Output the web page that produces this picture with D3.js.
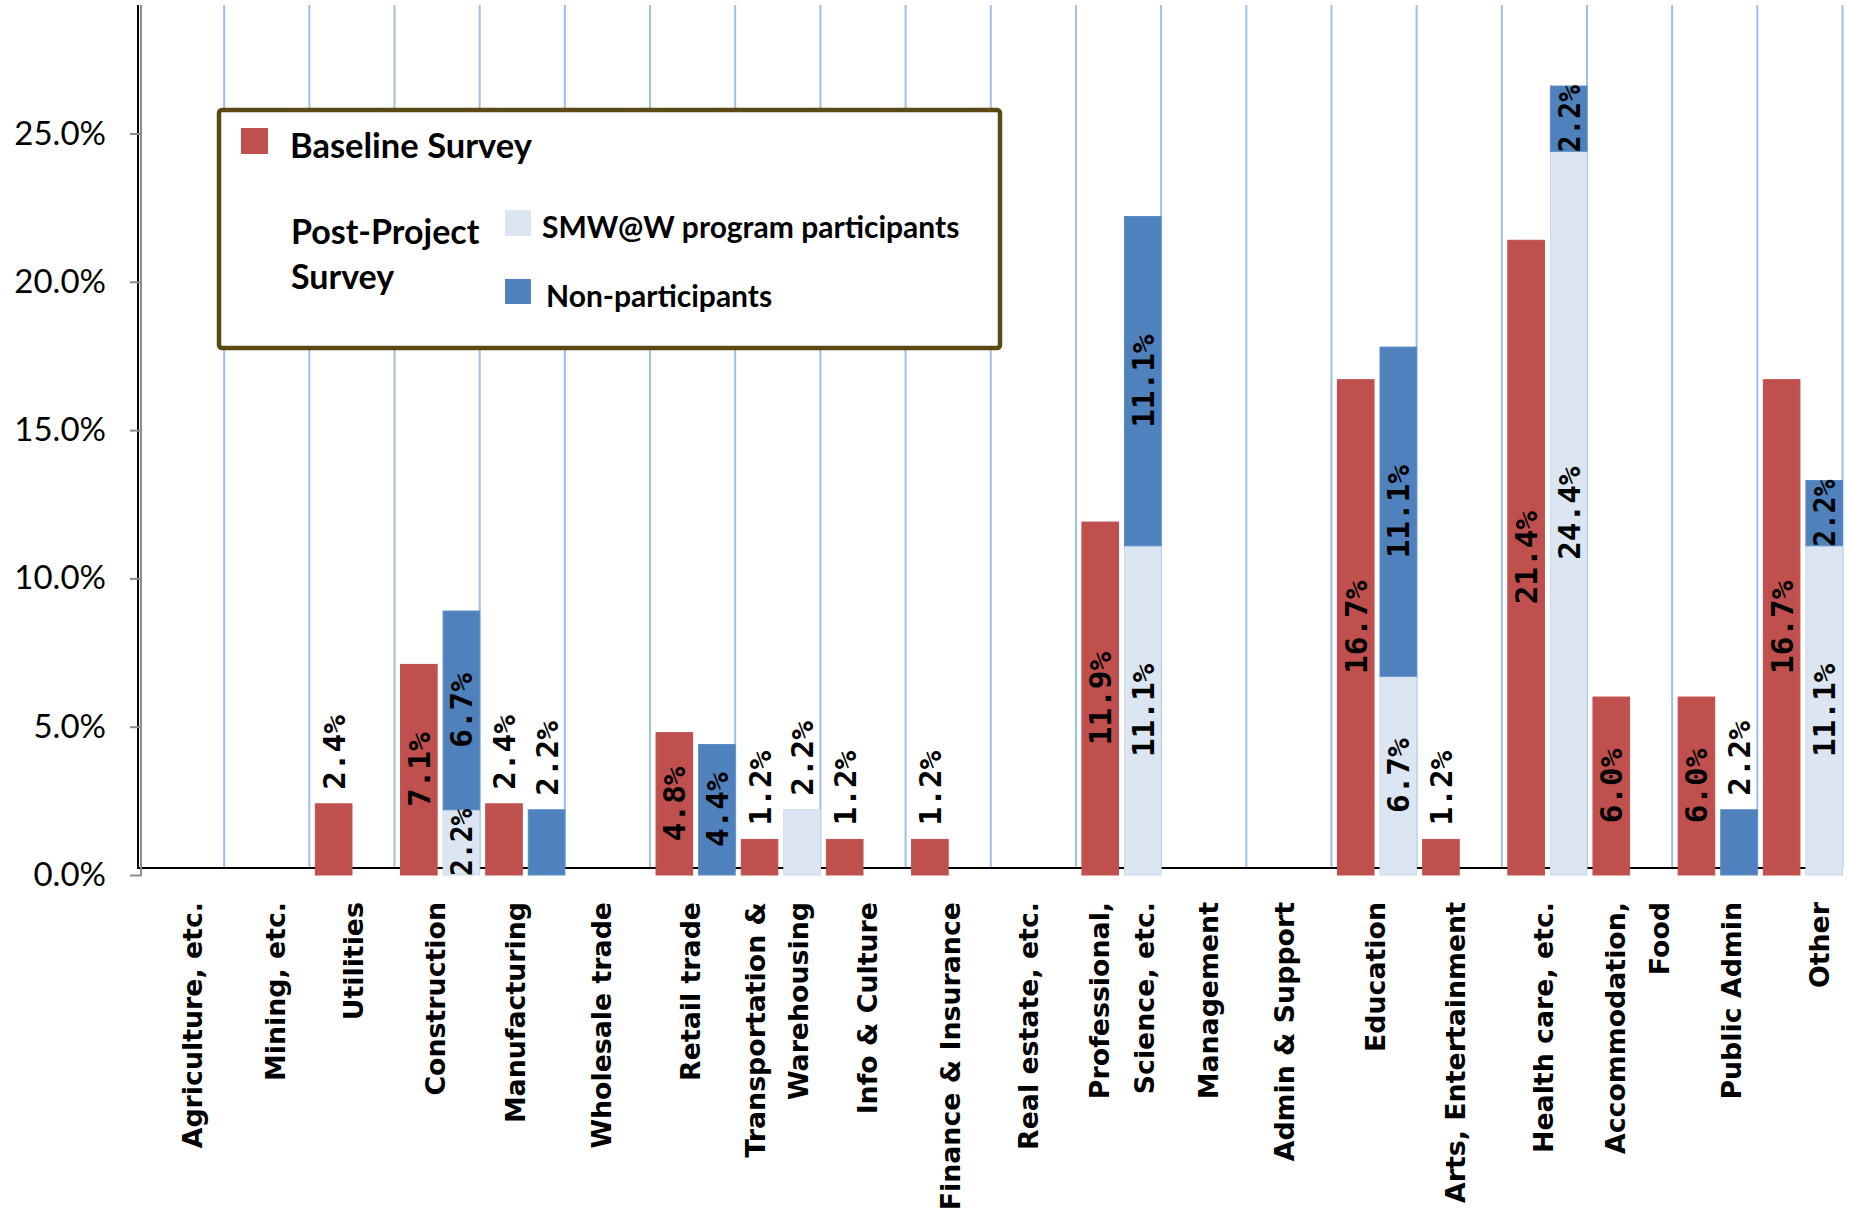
<!DOCTYPE html>
<html>
<head>
<meta charset="utf-8">
<script src="https://cdn.jsdelivr.net/npm/d3@7"></script>
<style>
  html, body { margin: 0; padding: 0; background: #fff; }
  svg { display: block; }
</style>
</head>
<body>
<svg id="chart" width="1849" height="1215"></svg>
<script>
// Industry categories ("\n" marks a manual line break in the axis label)
const categories = [
  "Agriculture, etc.", "Mining, etc.", "Utilities", "Construction", "Manufacturing",
  "Wholesale trade", "Retail trade", "Transportation &\nWarehousing", "Info & Culture",
  "Finance & Insurance", "Real estate, etc.", "Professional,\nScience, etc.", "Management",
  "Admin & Support", "Education", "Arts, Entertainment", "Health care, etc.",
  "Accommodation,\nFood", "Public Admin", "Other"
];

// Share of respondents (%) per industry; null = no respondents
const baseline = [null, null, 2.4, 7.1, 2.4, null, 4.8, 1.2, 1.2, 1.2, null, 11.9, null, null, 16.7, 1.2, 21.4, 6.0, 6.0, 16.7];
const participants = [null, null, null, 2.2, null, null, null, 2.2, null, null, null, 11.1, null, null, 6.7, null, 24.4, null, null, 11.1];
const nonParticipants = [null, null, null, 6.7, 2.2, null, 4.4, null, null, null, null, 11.1, null, null, 11.1, null, 2.2, null, 2.2, 2.2];

const yTicks = [0, 5, 10, 15, 20, 25];

const seriesNames = {
  baseline: "Baseline Survey",
  post: "Post-Project\nSurvey",
  participants: "SMW@W program participants",
  nonParticipants: "Non-participants"
};

const colors = {
  baseline: "#C0504D",
  participants: "#DCE6F2",
  nonParticipants: "#4F81BD",
  grid: "#9DBEEA",
  legendBorder: "#5B4913"
};

const svg = d3.select("#chart");
svg.append("rect").attr("width", 1849).attr("height", 1215).attr("fill", "#fff");

const plotTop = 5, frameY = 868, axisX = 141, frameX = 138;

const x = d3.scaleBand().domain(d3.range(categories.length)).range([139, 1842.5]).padding(0);
const inner = d3.scaleBand().domain(["base", "post"]).range([6, x.bandwidth()]).paddingInner(0.14);
const y = d3.scaleLinear().domain([0, 25]).range([875, 133.5]);

// vertical gridlines at category boundaries
const boundaries = d3.range(1, categories.length + 1).map(i => x.range()[0] + i * x.step());
svg.append("g").selectAll("line").data(boundaries).join("line")
  .attr("x1", d => d).attr("x2", d => d)
  .attr("y1", plotTop).attr("y2", frameY)
  .attr("stroke", colors.grid).attr("stroke-width", 2);

// black frame
svg.append("line").attr("x1", frameX).attr("x2", frameX).attr("y1", plotTop).attr("y2", frameY)
  .attr("stroke", "#000").attr("stroke-width", 2);
svg.append("line").attr("x1", frameX - 1).attr("x2", x.range()[1]).attr("y1", frameY).attr("y2", frameY)
  .attr("stroke", "#000").attr("stroke-width", 2);

// value axis
const yAxis = svg.append("g").attr("transform", `translate(${axisX},0)`)
  .call(d3.axisLeft(y).tickValues(yTicks).tickSize(11).tickSizeOuter(0).tickPadding(24)
    .tickFormat(d => d.toFixed(1) + "%"));
yAxis.select(".domain").remove();
yAxis.selectAll(".tick line").attr("stroke", "#8C8C8C").attr("stroke-width", 2);
yAxis.selectAll(".tick text")
  .attr("font-family", "Lato, 'Open Sans', sans-serif").attr("font-size", 33).attr("fill", "#000");
svg.append("line").attr("x1", axisX).attr("x2", axisX).attr("y1", plotTop).attr("y2", y(0) + 1)
  .attr("stroke", "#8C8C8C").attr("stroke-width", 2);

// bar segments
const segments = [];
categories.forEach((c, i) => {
  if (baseline[i] != null) {
    segments.push({ i, slot: "base", key: "baseline", v: baseline[i], y0: 0, y1: baseline[i], alone: true });
  }
  const p = participants[i], n = nonParticipants[i];
  const count = (p != null) + (n != null);
  let acc = 0;
  if (p != null) { segments.push({ i, slot: "post", key: "participants", v: p, y0: acc, y1: acc + p, alone: count === 1 }); acc += p; }
  if (n != null) { segments.push({ i, slot: "post", key: "nonParticipants", v: n, y0: acc, y1: acc + n, alone: count === 1 }); acc += n; }
});

const strokeFor = { baseline: "#C0504D", participants: "#C9D8EC", nonParticipants: "#5A8CC8" };

svg.append("g").selectAll("rect").data(segments).join("rect")
  .attr("x", d => x(d.i) + inner(d.slot))
  .attr("width", inner.bandwidth())
  .attr("y", d => y(d.y1))
  .attr("height", d => y(d.y0) - y(d.y1))
  .attr("fill", d => colors[d.key])
  .attr("stroke", d => strokeFor[d.key])
  .attr("stroke-width", 1);

// value labels, rotated to read bottom-to-top
const labelFont = "'DejaVu Sans Mono', 'Liberation Mono', monospace";
const fmt = v => d3.format(".1f")(v) + "%";
const labels = svg.append("g");
segments.forEach(d => {
  const cx = x(d.i) + inner(d.slot) + inner.bandwidth() / 2;
  const top = y(d.y1), bottom = y(d.y0);
  const outside = d.alone && d.v < 3;
  const ty = outside ? top - 14 : (top + bottom) / 2;
  const t = labels.append("text")
    .attr("transform", `translate(${cx},${ty}) rotate(-90)`)
    .attr("text-anchor", outside ? "start" : "middle")
    .attr("dominant-baseline", "central")
    .attr("font-family", labelFont).attr("font-weight", "bold").attr("font-size", 31)
    .attr("fill", "#000")
    .text(fmt(d.v));
  if (!outside) {
    const len = t.node().getComputedTextLength();
    const room = bottom - top;
    if (len > room) t.attr("textLength", room + 2).attr("lengthAdjust", "spacingAndGlyphs");
  }
});

// category labels: rotated, right-aligned under the axis; per-line baseline
// nudges (px from the band centre) keep each label where the layout places it
const catBaselineNudge = [
  [20], [18], [11], [8], [3], [4], [7], [-13, 30], [14], [12], [5], [-10, 35],
  [14], [5], [11], [6], [9], [-4.5, 39.5], [26], [29]
];
const catG = svg.append("g");
categories.forEach((c, i) => {
  const lines = c.split("\n");
  const cx = x(i) + x.bandwidth() / 2;
  lines.forEach((ln, k) => {
    catG.append("text")
      .attr("transform", `translate(${cx + catBaselineNudge[i][k]},902) rotate(-90)`)
      .attr("text-anchor", "end")
      .attr("font-family", "'DejaVu Sans', Verdana, sans-serif")
      .attr("font-weight", "bold").attr("font-size", 26.8).attr("fill", "#000")
      .text(ln);
  });
});

// legend
const lg = svg.append("g");
lg.append("rect").attr("x", 219).attr("y", 110).attr("width", 781).attr("height", 238)
  .attr("rx", 3).attr("fill", "#fff")
  .attr("stroke", colors.legendBorder).attr("stroke-width", 4.5);
const legendFont = "Lato, 'Open Sans', sans-serif";
lg.append("rect").attr("x", 241).attr("y", 128).attr("width", 27).attr("height", 26)
  .attr("fill", colors.baseline);
lg.append("text").attr("x", 290).attr("y", 158)
  .attr("font-family", legendFont).attr("font-weight", "bold").attr("font-size", 34.5)
  .text(seriesNames.baseline);
seriesNames.post.split("\n").forEach((ln, k) => {
  lg.append("text").attr("x", 291).attr("y", 244 + k * 45)
    .attr("font-family", legendFont).attr("font-weight", "bold").attr("font-size", 34)
    .text(ln);
});
lg.append("rect").attr("x", 505).attr("y", 210).attr("width", 26).attr("height", 26)
  .attr("fill", colors.participants);
lg.append("text").attr("x", 542).attr("y", 238)
  .attr("font-family", legendFont).attr("font-weight", "bold").attr("font-size", 30)
  .text(seriesNames.participants);
lg.append("rect").attr("x", 505).attr("y", 279).attr("width", 26).attr("height", 25)
  .attr("fill", colors.nonParticipants);
lg.append("text").attr("x", 546).attr("y", 307)
  .attr("font-family", legendFont).attr("font-weight", "bold").attr("font-size", 30)
  .text(seriesNames.nonParticipants);
</script>
</body>
</html>
